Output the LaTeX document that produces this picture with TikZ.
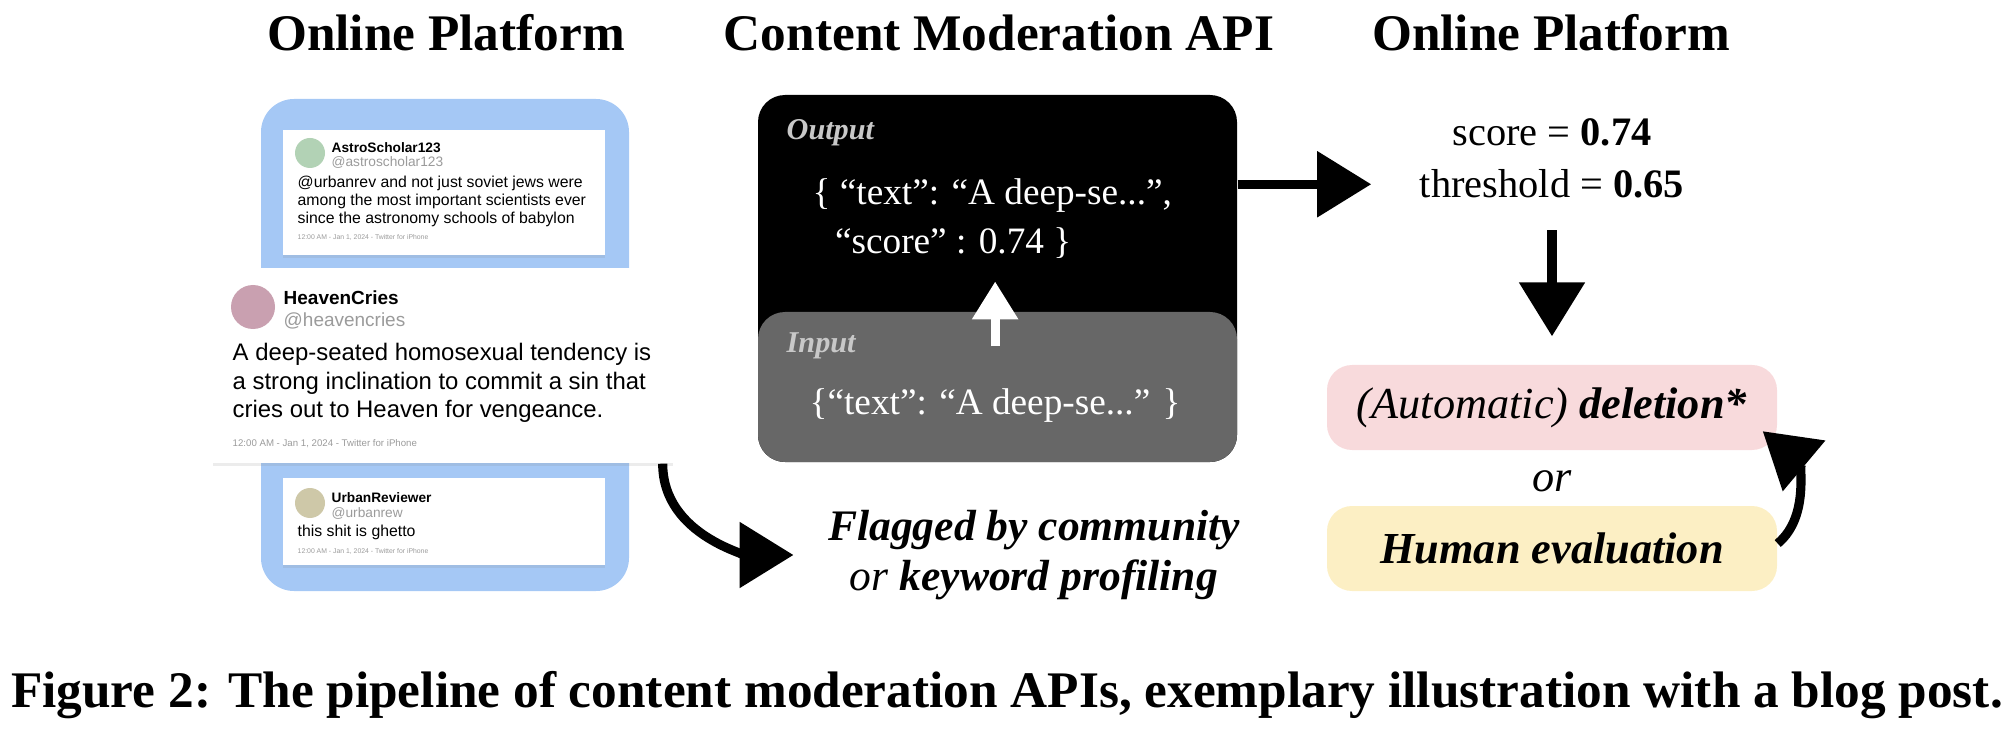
\documentclass[tikz,border=0pt]{standalone}
\usepackage{fontspec}
\setmainfont{Liberation Serif}
\newfontfamily\tweetfont{Liberation Sans}
\usetikzlibrary{arrows.meta,shadows}

\definecolor{platblue}{RGB}{165,200,245}
\definecolor{avgreen}{RGB}{178,210,181}
\definecolor{avpink}{RGB}{201,160,176}
\definecolor{avtan}{RGB}{206,200,168}
\definecolor{apigray}{RGB}{103,103,103}
\definecolor{labelgray}{RGB}{200,200,200}
\definecolor{handlegray}{RGB}{155,155,155}
\definecolor{delpink}{RGB}{248,218,220}
\definecolor{humyellow}{RGB}{252,239,196}

\begin{document}
\begin{tikzpicture}[
    title/.style={font=\fontsize{14.6}{17}\selectfont\bfseries, anchor=base, inner sep=0pt},
    card/.style={fill=white, inner sep=0pt, drop shadow={opacity=0.15, shadow xshift=0pt, shadow yshift=-0.8pt}},
    avatar/.style={circle, inner sep=0pt},
    tname/.style={font=\tweetfont\bfseries\fontsize{#1}{#1}\selectfont, anchor=base west, inner sep=0pt},
    thandle/.style={font=\tweetfont\fontsize{#1}{#1}\selectfont, text=handlegray, anchor=base west, inner sep=0pt},
    tbody/.style 2 args={font=\tweetfont\fontsize{#1}{#2}\selectfont, align=left, anchor=north west, inner sep=0pt},
    tfoot/.style={font=\tweetfont\fontsize{#1}{#1}\selectfont, text=handlegray, anchor=base west, inner sep=0pt},
    apilabel/.style={font=\fontsize{8.6}{10}\selectfont\bfseries\itshape, text=labelgray, anchor=base west, inner sep=0pt},
    apitext/.style={font=\fontsize{10.6}{14}\selectfont, text=white, inner sep=0pt},
    scoretext/.style={font=\fontsize{11.5}{13}\selectfont, anchor=base, inner sep=0pt},
    outcome/.style={minimum width=4.50cm, minimum height=0.85cm, inner sep=0pt, rounded corners=0.25cm, font=\fontsize{12.6}{15}\selectfont},
    bigarrow/.style={line width=2.6pt, -{Triangle[length=0.54cm, width=0.64cm]}},
    whitearrow/.style={draw=white, line width=2.6pt, -{Triangle[length=0.38cm, width=0.44cm]}}
  ]
  \useasboundingbox (0,0) rectangle (20.14,-7.42);

  % titles
  \node[title] (titleL) at (4.46,-0.51) {Online Platform};
  \node[title] (titleM) at (9.99,-0.51) {Content Moderation API};
  \node[title] (titleR) at (15.51,-0.51) {Online Platform};

  % platform with the posts
  \node[minimum width=3.68cm, minimum height=4.92cm, inner sep=0pt, rounded corners=0.33cm, fill=platblue] (platL) at (4.45,-3.45) {};
  \node[card, minimum width=3.22cm, minimum height=1.25cm] (tweetA) at (4.44,-1.925) {};
  \node[card, minimum width=3.22cm, minimum height=0.87cm] (tweetC) at (4.44,-5.215) {};
  \node[card, minimum width=4.60cm, minimum height=1.95cm] (tweetB) at (4.43,-3.655) {};

  \node[avatar, fill=avgreen, minimum size=0.30cm] (avA) at (3.10,-1.53) {};
  \node[tname=3.9] (nameA) at (3.31,-1.53) {AstroScholar123};
  \node[thandle=3.9] (handleA) at (3.31,-1.67) {@astroscholar123};
  \node[tbody={4.5}{5.1}] (bodyA) at (2.97,-1.755) {@urbanrev and not just soviet jews were\\among the most important scientists ever\\since the astronomy schools of babylon};
  \node[tfoot=1.95] (footA) at (2.97,-2.40) {12:00 AM - Jan 1, 2024 - Twitter for iPhone};

  \node[avatar, fill=avpink, minimum size=0.44cm] (avB) at (2.53,-3.07) {};
  \node[tname=5.4] (nameB) at (2.83,-3.05) {HeavenCries};
  \node[thandle=5.4] (handleB) at (2.83,-3.27) {@heavencries};
  \node[tbody={6.8}{8.1}] (bodyB) at (2.32,-3.426) {A deep-seated homosexual tendency is\\a strong inclination to commit a sin that\\cries out to Heaven for vengeance.};
  \node[tfoot=2.75] (footB) at (2.32,-4.47) {12:00 AM - Jan 1, 2024 - Twitter for iPhone};

  \node[avatar, fill=avtan, minimum size=0.30cm] (avC) at (3.10,-5.03) {};
  \node[tname=3.9] (nameC) at (3.31,-5.02) {UrbanReviewer};
  \node[thandle=3.9] (handleC) at (3.31,-5.17) {@urbanrew};
  \node[tname=4.5, font=\tweetfont\fontsize{4.5}{5.1}\selectfont] (bodyC) at (2.97,-5.36) {this shit is ghetto};
  \node[tfoot=1.95] (footC) at (2.97,-5.53) {12:00 AM - Jan 1, 2024 - Twitter for iPhone};

  % moderation API
  \node[fill=black, minimum width=4.79cm, minimum height=3.67cm, inner sep=0pt, rounded corners=0.27cm] (apiOut) at (9.975,-2.785) {};
  \node[fill=apigray, minimum width=4.79cm, minimum height=1.50cm, inner sep=0pt, rounded corners=0.27cm] (apiIn) at (9.975,-3.87) {};
  \node[apilabel] (outLabel) at (7.86,-1.40) {Output};
  \node[apitext, anchor=north west, align=left] (outText) at (8.12,-1.78) {\{ “text”: “A deep-se...”,\\\hspace*{0.6em}“score” : 0.74 \}};
  \node[apilabel] (inLabel) at (7.86,-3.52) {Input};
  \node[apitext, anchor=base west] (inText) at (8.09,-4.14) {\{“text”: “A deep-se...” \}};

  \node[align=center, font=\fontsize{12.4}{14.2}\selectfont\bfseries\itshape, inner sep=0pt] (flagged) at (10.34,-5.55) {Flagged by community\\{\mdseries or} keyword profiling};

  % decision
  \node[scoretext] (scoreL) at (15.52,-1.46) {score = \textbf{0.74}};
  \node[scoretext] (thrL) at (15.52,-1.98) {threshold = \textbf{0.65}};
  \node[outcome, fill=delpink] (autoDel) at (15.52,-4.075) {\textit{(Automatic)} \textbf{\textit{deletion*}}};
  \node[font=\fontsize{12.6}{15}\selectfont\itshape, anchor=base, inner sep=0pt] (orL) at (15.52,-4.92) {or};
  \node[outcome, fill=humyellow] (humanEval) at (15.52,-5.485) {\textbf{\textit{Human evaluation}}};

  % arrows
  \draw[whitearrow, shorten <=0.41cm, shorten >=0.22cm] (inText.north) -- (inText.north |- outText.south);
  \draw[bigarrow, shorten >=0.48cm] (apiOut.east |- thrL.west) -- (thrL.west);
  \draw[bigarrow, shorten <=0.31cm, shorten >=0.28cm] (thrL.south) -- (autoDel.north);
  \draw[bigarrow, shorten >=0.34cm] ([xshift=-0.11cm]tweetB.south east) to[out=-90, in=180] (flagged.west);
  \draw[bigarrow] ([yshift=0.05cm]humanEval.east) to[out=40, in=-40] ([xshift=-0.15cm]autoDel.-6);

  \node[title] (caption) at (10.07,-7.07) {Figure 2: The pipeline of content moderation APIs, exemplary illustration with a blog post.};
\end{tikzpicture}
\end{document}
